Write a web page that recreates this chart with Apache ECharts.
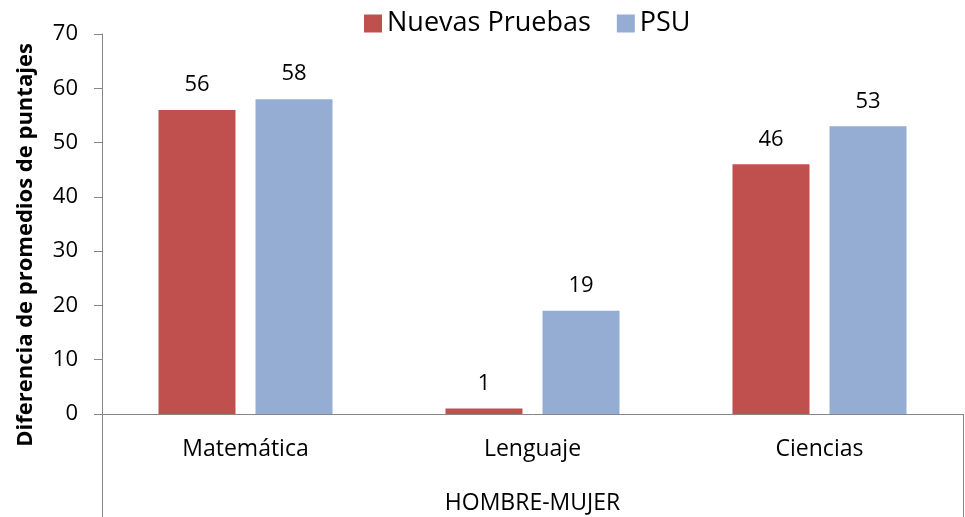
<!DOCTYPE html>
<html><head><meta charset="utf-8">
<script src="https://cdn.jsdelivr.net/npm/echarts@6/dist/echarts.min.js"></script>
<style>html,body{margin:0;padding:0;background:#fff}#c{width:965px;height:517px}</style>
</head><body><div id="c"></div>
<script>
var categories = ['Matemática', 'Lenguaje', 'Ciencias'];
var nuevasPruebas = [56, 1, 46];
var psu = [58, 19, 53];
var seriesNames = ['Nuevas Pruebas', 'PSU'];
var groupLabel = 'HOMBRE-MUJER';
var yTitle = 'Diferencia de promedios de puntajes';

var F = '"Open Sans", sans-serif';
var chart = echarts.init(document.getElementById('c'), null, {renderer: 'canvas'});
var gl = 102, gr = 963, gt = 34, gb = 414;
chart.setOption({
  animation: false,
  textStyle: {fontFamily: F},
  legend: {
    left: 359, top: 5, itemWidth: 18, itemHeight: 18, itemGap: 26, icon: 'rect',
    textStyle: {fontSize: 27, color: '#000', fontFamily: F},
    data: seriesNames
  },
  grid: {left: gl, right: 965 - gr, top: gt, bottom: 517 - gb, containLabel: false, outerBoundsMode: 'none'},
  xAxis: {
    type: 'category', data: categories,
    axisLine: {lineStyle: {color: '#868686', width: 1}},
    axisTick: {show: false},
    axisLabel: {fontSize: 23, color: '#000', margin: 24, fontFamily: F},
    name: groupLabel, nameLocation: 'middle', nameGap: 78,
    nameTextStyle: {fontSize: 23, color: '#000', fontFamily: F}
  },
  yAxis: {
    type: 'value', min: 0, max: 70, interval: 10,
    axisLine: {show: true, lineStyle: {color: '#868686'}},
    axisTick: {show: true, length: 8, lineStyle: {color: '#868686'}},
    splitLine: {show: false},
    axisLabel: {fontSize: 22, color: '#000', margin: 24, fontFamily: F},
    name: yTitle, nameLocation: 'middle', nameGap: 65,
    nameTextStyle: {fontSize: 22, fontWeight: 'bold', color: '#000', fontFamily: F, padding: [0, 42, 0, 0]}
  },
  series: [
    {name: seriesNames[0], type: 'bar', data: nuevasPruebas, barWidth: 77, barGap: '26%',
     itemStyle: {color: '#C0504D'},
     label: {show: true, position: 'top', distance: 14, fontSize: 22, color: '#000', fontFamily: F}},
    {name: seriesNames[1], type: 'bar', data: psu, barWidth: 77, barGap: '26%',
     itemStyle: {color: '#95ACD3'},
     label: {show: true, position: 'top', distance: 14, fontSize: 22, color: '#000', fontFamily: F}}
  ],
  graphic: [
    {type: 'line', shape: {x1: gl + 0.5, y1: gb, x2: gl + 0.5, y2: 517}, style: {stroke: '#868686', lineWidth: 1}},
    {type: 'line', shape: {x1: gr + 0.5, y1: gb, x2: gr + 0.5, y2: 517}, style: {stroke: '#868686', lineWidth: 1}}
  ]
});
</script></body></html>
